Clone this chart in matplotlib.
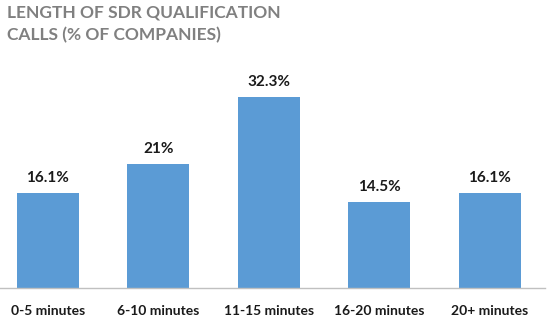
import numpy as np
import matplotlib
matplotlib.use('Agg')
import matplotlib.pyplot as plt

# Chart data
categories = ['0-5 minutes', '6-10 minutes', '11-15 minutes', '16-20 minutes', '20+ minutes']
values = [16.1, 21.0, 32.3, 14.5, 16.1]
labels = ['16.1%', '21%', '32.3%', '14.5%', '16.1%']

plt.rcParams['font.family'] = ['Lato', 'DejaVu Sans']

fig = plt.figure(figsize=(5.56, 3.19), dpi=100)
# axes spans baseline at y=288px, top at ~60px
ax = fig.add_axes([0.0, 31 / 319, 545 / 556, 228 / 319])

x = np.arange(len(categories))
ax.bar(x, values, width=0.56, color='#5B9BD5')

for xi, v, lab in zip(x, values, labels):
    ax.annotate(lab, (xi, v), xytext=(0, 6), textcoords='offset points',
                ha='center', va='bottom', fontsize=11, fontweight='bold',
                color='#1a1a1a')

ax.set_xlim(-0.434, 4.50)
ax.set_ylim(0, 38.6)
ax.set_xticks(x)
ax.set_xticklabels(categories, fontsize=10, fontweight='bold', color='#1a1a1a')
ax.tick_params(axis='x', length=0, pad=12)
ax.set_yticks([])

for side in ['top', 'right', 'left']:
    ax.spines[side].set_visible(False)
ax.spines['bottom'].set_color('#c0c0c0')
ax.spines['bottom'].set_linewidth(1.0)

fig.text(0.012, 0.985, 'LENGTH OF SDR QUALIFICATION\nCALLS (% OF COMPANIES)',
         ha='left', va='top', fontsize=12.5, fontweight='bold', color='#808080',
         linespacing=1.5)

fig.savefig('out.png', dpi=100)
plt.close()
